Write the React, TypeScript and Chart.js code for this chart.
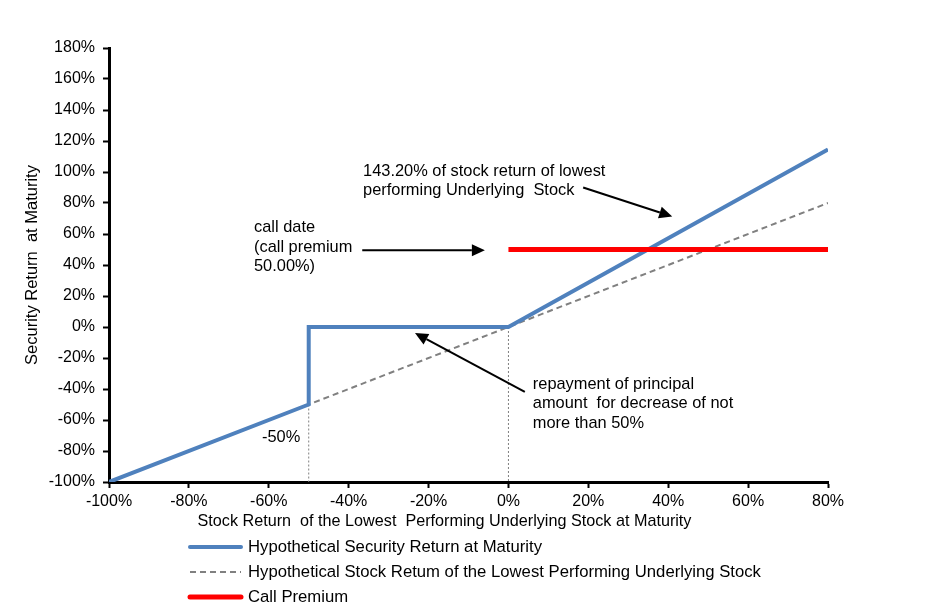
import React, { useEffect, useRef } from "react";
import { Chart, registerables } from "chart.js";

Chart.register(...registerables);

// ---- data ----
const securityX = [-100, -50, -50, 0, 80];
const securityY = [-100, -50, 0, 0, 114.56];
const stockX = [-100, 80];
const stockY = [-100, 80];
const premiumX = [0, 80];
const premiumY = [50, 50];
const guideAX = [-50, -50];
const guideAY = [-50, -100];
const guideBX = [0, 0];
const guideBY = [0, -100];

const xTicks = [-100, -80, -60, -40, -20, 0, 20, 40, 60, 80];
const yTicks = [-100, -80, -60, -40, -20, 0, 20, 40, 60, 80, 100, 120, 140, 160, 180];

const legendLabels = [
  "Hypothetical Security Return at Maturity",
  "Hypothetical Stock Retum of the Lowest Performing Underlying Stock",
  "Call Premium",
];

const xTitle = "Stock Return  of the Lowest  Performing Underlying Stock at Maturity";
const yTitle = "Security Return  at Maturity";

// annotations: text lines anchored at data coordinates
const notes = [
  { x: -36.4, y: 100.6, lines: ["143.20% of stock return of lowest", "performing Underlying  Stock"] },
  { x: -63.7, y: 63.9, lines: ["call date", "(call premium", "50.00%)"] },
  { x: -61.7, y: -71, lines: ["-50%"] },
  { x: 6.1, y: -36.8, lines: ["repayment of principal", "amount  for decrease of not", "more than 50%"] },
];
const arrows = [
  { fromX: 18.7, fromY: 90.0, toX: 41.0, toY: 71.3 },
  { fromX: -36.6, fromY: 49.5, toX: -5.9, toY: 49.5 },
  { fromX: 4.1, fromY: -41.9, toX: -23.4, toY: -3.9 },
];

const FONT = "'Liberation Sans', Arial, sans-serif";

const pts = (xs: number[], ys: number[]) => xs.map((x, i) => ({ x, y: ys[i] }));

const annotationPlugin = {
  id: "notes",
  afterDatasetsDraw(chart: any) {
    const { ctx, scales } = chart;
    const xs = scales.x;
    const ys = scales.y;
    ctx.save();
    ctx.fillStyle = "#000";
    ctx.font = `16.4px ${FONT}`;
    ctx.textAlign = "left";
    ctx.textBaseline = "middle";
    notes.forEach((n) => {
      const px = xs.getPixelForValue(n.x);
      const py = ys.getPixelForValue(n.y);
      n.lines.forEach((l, i) => ctx.fillText(l, px, py + i * 19.5));
    });
    ctx.strokeStyle = "#000";
    ctx.lineWidth = 2;
    arrows.forEach((a) => {
      const x1 = xs.getPixelForValue(a.fromX);
      const y1 = ys.getPixelForValue(a.fromY);
      const x2 = xs.getPixelForValue(a.toX);
      const y2 = ys.getPixelForValue(a.toY);
      const ang = Math.atan2(y2 - y1, x2 - x1);
      const len = 13;
      const w = 6;
      const bx = x2 - len * Math.cos(ang);
      const by = y2 - len * Math.sin(ang);
      ctx.beginPath();
      ctx.moveTo(x1, y1);
      ctx.lineTo(bx, by);
      ctx.stroke();
      ctx.beginPath();
      ctx.moveTo(x2, y2);
      ctx.lineTo(bx + w * Math.sin(ang), by - w * Math.cos(ang));
      ctx.lineTo(bx - w * Math.sin(ang), by + w * Math.cos(ang));
      ctx.closePath();
      ctx.fill();
    });
    ctx.restore();
  },
  afterDraw(chart: any) {
    const { ctx, chartArea } = chart;
    ctx.save();
    // x axis title
    ctx.fillStyle = "#000";
    ctx.font = `16.2px ${FONT}`;
    ctx.textAlign = "center";
    ctx.textBaseline = "middle";
    ctx.fillText(xTitle, chartArea.left + 335.5, chartArea.bottom + 40);
    // legend
    ctx.font = `16.7px ${FONT}`;
    ctx.textAlign = "left";
    legendLabels.forEach((label, i) => {
      const ds = chart.data.datasets[i];
      const y = chartArea.bottom + 65 + i * 25;
      ctx.strokeStyle = ds.borderColor;
      ctx.lineWidth = ds.borderWidth;
      ctx.setLineDash(ds.borderDash || []);
      ctx.lineCap = ds.borderWidth > 3 ? "round" : "butt";
      ctx.beginPath();
      ctx.moveTo(190, y);
      ctx.lineTo(241, y);
      ctx.stroke();
      ctx.setLineDash([]);
      ctx.fillStyle = "#000";
      ctx.fillText(label, 248, y);
    });
    ctx.restore();
  },
};

export default function App() {
  const ref = useRef<HTMLCanvasElement | null>(null);
  useEffect(() => {
    if (!ref.current) return;
    const chart = new Chart(ref.current, {
      type: "line",
      data: {
        datasets: [
          {
            label: legendLabels[0],
            data: pts(securityX, securityY),
            borderColor: "#4F81BD",
            borderWidth: 4,
            pointRadius: 0,
            order: 1,
          },
          {
            label: legendLabels[1],
            data: pts(stockX, stockY),
            borderColor: "#808080",
            borderWidth: 2,
            borderDash: [6, 4],
            pointRadius: 0,
            order: 2,
          },
          {
            label: legendLabels[2],
            data: pts(premiumX, premiumY),
            borderColor: "#FF0000",
            borderWidth: 5,
            pointRadius: 0,
            order: 0,
          },
          {
            label: "guideA",
            data: pts(guideAX, guideAY),
            borderColor: "#808080",
            borderWidth: 1,
            borderDash: [2, 2],
            pointRadius: 0,
            order: 3,
          },
          {
            label: "guideB",
            data: pts(guideBX, guideBY),
            borderColor: "#808080",
            borderWidth: 1,
            borderDash: [2, 2],
            pointRadius: 0,
            order: 3,
          },
        ],
      },
      options: {
        animation: false,
        responsive: false,
        layout: { padding: { left: 0, right: 122, top: 48, bottom: 78 } },
        plugins: { legend: { display: false }, tooltip: { enabled: false } },
        scales: {
          x: {
            type: "linear",
            min: -100,
            max: 80,
            afterBuildTicks: (s: any) => {
              s.ticks = xTicks.map((v) => ({ value: v }));
            },
            afterFit: (s: any) => {
              s.height = 50;
            },
            ticks: {
              color: "#000",
              font: { family: FONT, size: 16 },
              padding: 4,
              maxRotation: 0,
              autoSkip: false,
              callback: (v: any) => `${v}%`,
            },
            grid: {
              display: true,
              drawOnChartArea: false,
              drawTicks: true,
              tickLength: 6,
              tickColor: "#000",
              tickWidth: 2,
            },
            border: { color: "#000", width: 3 },
            title: { display: false },
          },
          y: {
            type: "linear",
            min: -100,
            max: 180,
            afterBuildTicks: (s: any) => {
              s.ticks = yTicks.map((v) => ({ value: v }));
            },
            afterFit: (s: any) => {
              s.width = 109;
            },
            ticks: {
              color: "#000",
              font: { family: FONT, size: 16 },
              padding: 8,
              autoSkip: false,
              callback: (v: any) => `${v}%`,
            },
            grid: {
              display: true,
              drawOnChartArea: false,
              drawTicks: true,
              tickLength: 6,
              tickColor: "#000",
              tickWidth: 2,
            },
            border: { color: "#000", width: 3 },
            title: {
              display: true,
              text: yTitle,
              color: "#000",
              font: { family: FONT, size: 16.5 },
              padding: { top: 23, bottom: 0 },
            },
          },
        },
      },
      plugins: [annotationPlugin],
    });
    return () => chart.destroy();
  }, []);
  return (
    <div style={{ position: "absolute", left: 0, top: 0, width: 950, height: 610, background: "#fff" }}>
      <canvas ref={ref} width={950} height={610} style={{ display: "block", width: 950, height: 610 }} />
    </div>
  );
}
